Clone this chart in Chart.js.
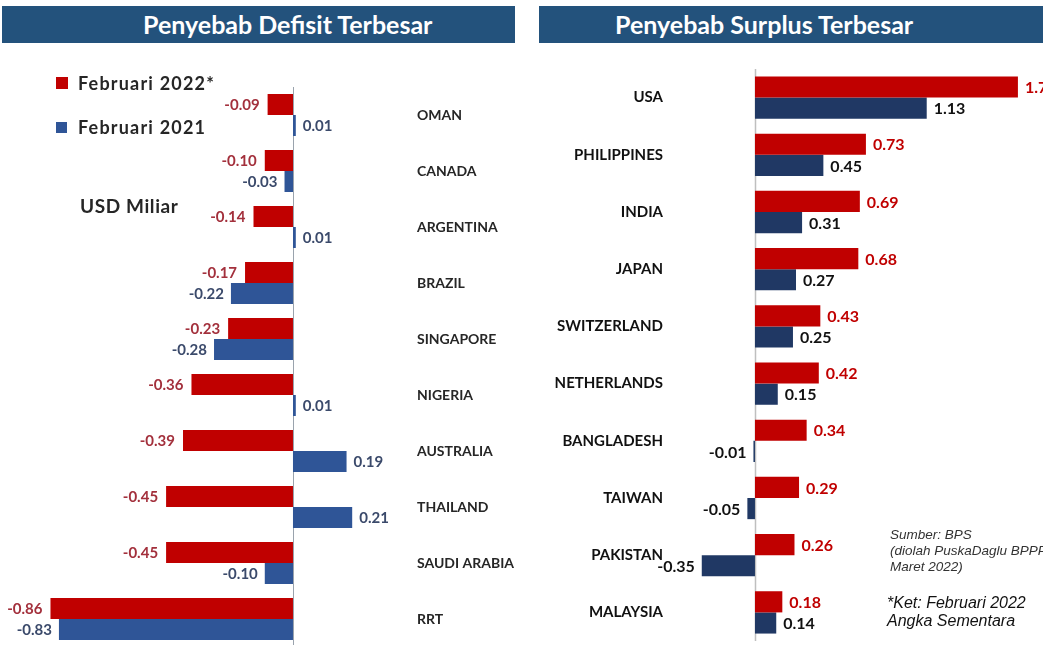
<!DOCTYPE html>
<html>
<head>
<meta charset="utf-8">
<script src="https://cdn.jsdelivr.net/npm/chart.js@4.4.1/dist/chart.umd.min.js"></script>
<style>
  html, body { margin:0; padding:0; background:#fff; }
  body { width:1043px; height:645px; position:relative; overflow:hidden; font-family: Lato, "Open Sans", sans-serif; }
  .hdr { position:absolute; top:6px; height:37px; background:#23527c; }
  .hdr span { position:absolute; top:0; line-height:37px; color:#fff; font-weight:700; font-size:25px; white-space:nowrap; }
  .box { position:absolute; }
  .txt { position:absolute; white-space:nowrap; }
  .sq { position:absolute; }
</style>
</head>
<body>
<div class="hdr" style="left:2px; width:513px;"><span style="left:141px;">Penyebab Defisit Terbesar</span></div>
<div class="hdr" style="left:539px; width:504px;"><span style="left:76px;">Penyebab Surplus Terbesar</span></div>

<div class="box" style="left:0; top:87px; width:530px; height:560px;"><canvas id="cl" width="530" height="560"></canvas></div>
<div class="box" style="left:540px; top:69px; width:503px; height:572px;"><canvas id="cr" width="503" height="572"></canvas></div>

<div class="sq" style="left:56px; top:77px; width:12px; height:12px; background:#c00000;"></div>
<div class="txt" style="left:78px; top:72px; font-weight:700; font-size:18px; letter-spacing:1.2px; color:#262626; line-height:22px;">Februari 2022*</div>
<div class="sq" style="left:56px; top:122px; width:11px; height:11px; background:#2f5597;"></div>
<div class="txt" style="left:78px; top:116px; font-weight:700; font-size:18px; letter-spacing:1.2px; color:#262626; line-height:22px;">Februari 2021</div>
<div class="txt" style="left:80px; top:195px; font-weight:700; font-size:19px; letter-spacing:0.6px; color:#262626; line-height:22px;">USD Miliar</div>

<div class="txt" style="left:890px; top:527px; font-family:'Liberation Sans',Arial,sans-serif; font-style:italic; font-size:13.5px; line-height:16px; color:#333;">Sumber: BPS<br>(diolah PuskaDaglu BPPP<br>Maret 2022)</div>
<div class="txt" style="left:887px; top:594px; font-family:'Liberation Sans',Arial,sans-serif; font-style:italic; font-size:16px; line-height:18px; color:#111;">*Ket: Februari 2022<br>Angka Sementara</div>

<script>
const leftCategories = ['OMAN','CANADA','ARGENTINA','BRAZIL','SINGAPORE','NIGERIA','AUSTRALIA','THAILAND','SAUDI ARABIA','RRT'];
const leftFeb2022 = [-0.09,-0.10,-0.14,-0.17,-0.23,-0.36,-0.39,-0.45,-0.45,-0.86];
const leftFeb2021 = [0.01,-0.03,0.01,-0.22,-0.28,0.01,0.19,0.21,-0.10,-0.83];

const rightCategories = ['USA','PHILIPPINES','INDIA','JAPAN','SWITZERLAND','NETHERLANDS','BANGLADESH','TAIWAN','PAKISTAN','MALAYSIA'];
const rightFeb2022 = [1.73,0.73,0.69,0.68,0.43,0.42,0.34,0.29,0.26,0.18];
const rightFeb2021 = [1.13,0.45,0.31,0.27,0.25,0.15,-0.01,-0.05,-0.35,0.14];

const seriesNames = ['Februari 2022*','Februari 2021'];

function zeroLinePlugin(color, width) {
  return {
    id: 'zeroLine',
    beforeDatasetsDraw(chart) {
      const ctx = chart.ctx, a = chart.chartArea;
      const x = Math.round(chart.scales.x.getPixelForValue(0)) + 0.5;
      ctx.save();
      ctx.strokeStyle = color; ctx.lineWidth = width;
      ctx.beginPath(); ctx.moveTo(x, a.top); ctx.lineTo(x, a.bottom); ctx.stroke();
      ctx.restore();
    }
  };
}

function valueLabelPlugin(styles) {
  return {
    id: 'valueLabels',
    afterDatasetsDraw(chart) {
      const ctx = chart.ctx;
      ctx.save();
      chart.data.datasets.forEach((ds, di) => {
        const meta = chart.getDatasetMeta(di);
        const st = styles[di];
        ctx.font = st.font;
        ctx.fillStyle = st.color;
        ctx.textBaseline = 'middle';
        meta.data.forEach((el, i) => {
          const v = ds.data[i];
          const txt = v.toFixed(2);
          if (v < 0) { ctx.textAlign = 'right'; ctx.fillText(txt, el.x - st.gap, el.y + 1); }
          else { ctx.textAlign = 'left'; ctx.fillText(txt, el.x + st.gap, el.y + 1); }
        });
      });
      ctx.restore();
    }
  };
}

function fixAxis(w) {
  return function (scale) {
    scale.width = w;
    scale.paddingTop = 0;
    scale.paddingBottom = 0;
    if (scale._margins) { scale._margins.top = 0; scale._margins.bottom = 0; }
  };
}

// Left chart: 282 px per unit, zero at x=293, y-axis labels on right at x=417
new Chart(document.getElementById('cl'), {
  type: 'bar',
  data: {
    labels: leftCategories,
    datasets: [
      { label: seriesNames[0], data: leftFeb2022, backgroundColor: '#c00000', categoryPercentage: 0.75, barPercentage: 1.0 },
      { label: seriesNames[1], data: leftFeb2021, backgroundColor: '#2f5597', categoryPercentage: 0.75, barPercentage: 1.0 }
    ]
  },
  options: {
    indexAxis: 'y',
    responsive: false,
    animation: false,
    devicePixelRatio: 1,
    layout: { padding: 0, autoPadding: false },
    plugins: { legend: { display: false }, tooltip: { enabled: false } },
    scales: {
      x: { display: false, min: -1.039, max: 0.415 },
      y: {
        position: 'right',
        grid: { display: false, drawTicks: false },
        border: { display: false },
        ticks: { padding: 7, color: '#262626', font: { family: 'Lato', weight: 'bold', size: 14 } },
        afterFit: fixAxis(120)
      }
    }
  },
  plugins: [zeroLinePlugin('#9aa3ad', 1), valueLabelPlugin([
    { font: 'bold 15px Lato', color: '#a3303c', gap: 8 },
    { font: 'bold 15px Lato', color: '#3b4a6b', gap: 7 }
  ])]
});

// Right chart: 152 px per unit, zero at x=755, y-axis labels ending at x=663
new Chart(document.getElementById('cr'), {
  type: 'bar',
  data: {
    labels: rightCategories,
    datasets: [
      { label: seriesNames[0], data: rightFeb2022, backgroundColor: '#c00000', categoryPercentage: 0.74, barPercentage: 1.0 },
      { label: seriesNames[1], data: rightFeb2021, backgroundColor: '#203864', categoryPercentage: 0.74, barPercentage: 1.0 }
    ]
  },
  options: {
    indexAxis: 'y',
    responsive: false,
    animation: false,
    devicePixelRatio: 1,
    layout: { padding: 0, autoPadding: false },
    plugins: { legend: { display: false }, tooltip: { enabled: false } },
    scales: {
      x: { display: false, min: -0.559, max: 1.895 },
      y: {
        position: 'left',
        grid: { display: false, drawTicks: false },
        border: { display: false },
        ticks: { padding: 7, color: '#111111', font: { family: 'Lato', weight: 'bold', size: 15 } },
        afterFit: fixAxis(130)
      }
    }
  },
  plugins: [zeroLinePlugin('#bfbfbf', 1.5), valueLabelPlugin([
    { font: 'bold 16px Lato', color: '#c00000', gap: 7 },
    { font: 'bold 16px Lato', color: '#111111', gap: 7 }
  ])]
});
</script>
</body>
</html>
